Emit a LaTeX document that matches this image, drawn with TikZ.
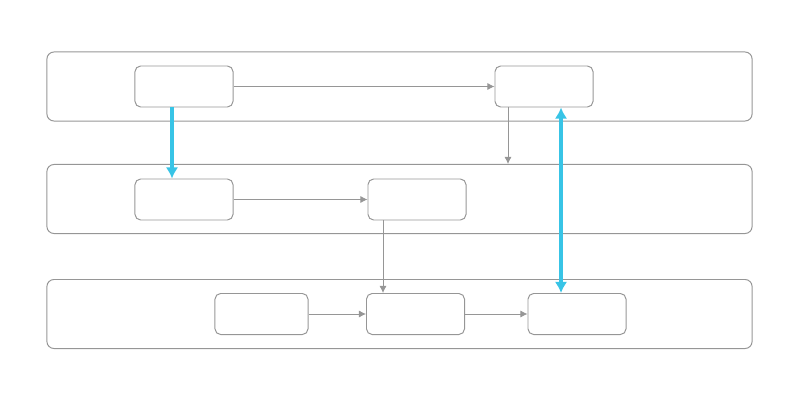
\documentclass[tikz,border=0pt]{standalone}
\usetikzlibrary{arrows.meta}
\definecolor{lanegray}{RGB}{150,150,150}
\definecolor{linkcyan}{RGB}{56,196,230}
\tikzset{
  lane/.style={draw=lanegray, line width=0.7pt, rounded corners=5pt, minimum width=17.625cm, minimum height=1.725cm},
  box/.style={draw=lanegray, line width=0.7pt, rounded corners=4pt, minimum width=2.45cm, minimum height=1.025cm},
  flow/.style={draw=lanegray, line width=0.6pt, -{Latex[length=5pt,width=5pt]}},
  link/.style={draw=linkcyan, line width=2.2pt, -{Latex[length=8pt,width=9pt]}}
}
\begin{document}
\begin{tikzpicture}[x=0.025cm, y=-0.025cm]
  \useasboundingbox (0,0) rectangle (800,400);

  % Lanes
  \node[lane] (L1) at (399.5,86.5) {};
  \node[lane] (L2) at (399.5,199) {};
  \node[lane] (L3) at (399.5,314) {};

  % Boxes
  \node[box] (A) at (184,86.5) {};
  \node[box] (B) at (544,86.5) {};
  \node[box] (C) at (184,199.5) {};
  \node[box] (D) at (417,199.5) {};
  \node[box, minimum width=2.325cm] (E) at (261.5,314) {};
  \node[box] (F) at (415.5,314) {};
  \node[box] (G) at (577,314) {};

  % Gray flows
  \draw[flow] (A) -- (B);
  \draw[flow] (C) -- (D);
  \draw[flow] (E) -- (F);
  \draw[flow] (F) -- (G);
  \coordinate (bdrop) at (508,107);
  \draw[flow] (bdrop) -- (bdrop |- L2.north);
  \coordinate (ddrop) at (383,220);
  \draw[flow] (ddrop) -- (ddrop |- F.north);

  % Cyan links
  \coordinate (adrop) at (172,107);
  \draw[link] (adrop) -- (adrop |- C.north);
  \coordinate (gup) at (561,293);
  \draw[link, {Latex[length=8pt,width=9pt]}-{Latex[length=8pt,width=9pt]}] (gup) -- (gup |- B.south);
\end{tikzpicture}
\end{document}
